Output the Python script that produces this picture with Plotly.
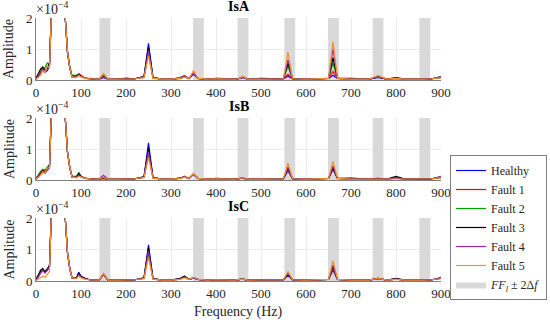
import plotly.graph_objects as go

# Frequency grid (Hz); amplitudes in units of 1e-4
freq = [0, 5, 10, 15, 20, 25, 30, 35,
        50, 65, 70, 75, 80,
        90, 95, 100, 110, 120,
        140, 150, 160, 180, 200, 220, 240, 250, 260,
        280, 300, 320, 330, 340, 350, 360, 380, 400,
        440, 450, 460, 470, 500, 540, 550, 560, 570,
        600, 640, 650, 660, 670, 700, 740, 760, 780,
        800, 820, 860, 880, 900]

series_names = ["Healthy", "Fault 1", "Fault 2", "Fault 3", "Fault 4", "Fault 5"]
series_colors = ["#0000ff", "#ff0000", "#00a000", "#000000", "#9a2ca8", "#f7902f"]
panel_titles = ["IsA", "IsB", "IsC"]
band_centers = [153, 361, 460, 564, 661, 760, 864]
band_half_width = 12
x_ticks = [0, 100, 200, 300, 400, 500, 600, 700, 800, 900]
y_ticks = [0, 1, 2]

# ---- IsA ----
isa_healthy = [0.05, 0.15, 0.25, 0.40, 0.25, 0.30, 0.45, 2.5,
               40, 2.0, 0.9, 0.4, 0.10,
               0.12, 0.18, 0.12, 0.05, 0.04,
               0.03, 0.08, 0.03, 0.03, 0.05, 0.04, 0.10, 1.18, 0.08,
               0.03, 0.03, 0.06, 0.12, 0.05, 0.18, 0.05, 0.03, 0.04,
               0.03, 0.04, 0.08, 0.03, 0.03, 0.03, 0.04, 0.12, 0.04,
               0.03, 0.03, 0.05, 0.15, 0.05, 0.03, 0.03, 0.08, 0.03,
               0.06, 0.03, 0.03, 0.04, 0.10]
isa_fault1 = [0.02, 0.10, 0.20, 0.30, 0.30, 0.35, 0.50, 2.5,
              40, 2.0, 0.9, 0.4, 0.10,
              0.10, 0.20, 0.15, 0.05, 0.05,
              0.03, 0.15, 0.03, 0.03, 0.04, 0.04, 0.08, 0.85, 0.06,
              0.03, 0.03, 0.05, 0.10, 0.05, 0.20, 0.05, 0.03, 0.04,
              0.03, 0.04, 0.10, 0.03, 0.03, 0.03, 0.04, 0.18, 0.04,
              0.03, 0.03, 0.05, 0.28, 0.05, 0.03, 0.03, 0.10, 0.03,
              0.05, 0.03, 0.03, 0.04, 0.08]
isa_fault2 = [0.08, 0.12, 0.30, 0.35, 0.40, 0.55, 0.50, 2.5,
              40, 2.0, 0.9, 0.45, 0.15,
              0.15, 0.20, 0.12, 0.05, 0.04,
              0.03, 0.12, 0.03, 0.03, 0.04, 0.04, 0.10, 0.92, 0.07,
              0.03, 0.03, 0.05, 0.10, 0.05, 0.22, 0.05, 0.03, 0.04,
              0.03, 0.04, 0.10, 0.03, 0.03, 0.03, 0.04, 0.45, 0.04,
              0.03, 0.03, 0.05, 0.55, 0.05, 0.03, 0.03, 0.10, 0.03,
              0.05, 0.03, 0.03, 0.04, 0.08]
isa_fault3 = [0.05, 0.18, 0.35, 0.42, 0.30, 0.40, 0.55, 2.5,
              40, 2.0, 0.9, 0.4, 0.12,
              0.12, 0.18, 0.12, 0.05, 0.04,
              0.03, 0.10, 0.03, 0.03, 0.05, 0.04, 0.12, 1.05, 0.08,
              0.03, 0.03, 0.06, 0.12, 0.05, 0.20, 0.05, 0.03, 0.05,
              0.03, 0.04, 0.10, 0.03, 0.05, 0.03, 0.04, 0.55, 0.04,
              0.03, 0.03, 0.05, 0.72, 0.05, 0.05, 0.03, 0.10, 0.03,
              0.08, 0.03, 0.03, 0.04, 0.10]
isa_fault4 = [0.03, 0.12, 0.28, 0.35, 0.28, 0.38, 0.45, 2.5,
              40, 2.0, 0.9, 0.4, 0.10,
              0.10, 0.15, 0.10, 0.08, 0.04,
              0.03, 0.10, 0.03, 0.03, 0.04, 0.04, 0.10, 0.95, 0.07,
              0.03, 0.03, 0.08, 0.15, 0.05, 0.20, 0.05, 0.03, 0.04,
              0.03, 0.04, 0.08, 0.03, 0.03, 0.03, 0.04, 0.65, 0.04,
              0.03, 0.03, 0.05, 1.02, 0.05, 0.03, 0.03, 0.10, 0.03,
              0.05, 0.03, 0.03, 0.04, 0.12]
isa_fault5 = [0.02, 0.08, 0.15, 0.30, 0.25, 0.45, 0.40, 2.5,
              40, 2.0, 0.9, 0.4, 0.10,
              0.08, 0.15, 0.10, 0.05, 0.04,
              0.03, 0.22, 0.03, 0.03, 0.04, 0.04, 0.08, 0.78, 0.06,
              0.03, 0.03, 0.05, 0.10, 0.05, 0.30, 0.05, 0.03, 0.04,
              0.03, 0.04, 0.12, 0.03, 0.03, 0.03, 0.04, 0.90, 0.04,
              0.03, 0.03, 0.05, 1.24, 0.05, 0.03, 0.03, 0.15, 0.03,
              0.05, 0.03, 0.03, 0.04, 0.08]

# ---- IsB ----
isb_healthy = [0.05, 0.10, 0.20, 0.25, 0.22, 0.30, 0.40, 2.5,
               40, 2.0, 0.9, 0.4, 0.10,
               0.10, 0.18, 0.12, 0.05, 0.04,
               0.03, 0.05, 0.03, 0.03, 0.04, 0.04, 0.10, 1.20, 0.08,
               0.03, 0.03, 0.06, 0.10, 0.05, 0.18, 0.05, 0.03, 0.04,
               0.03, 0.04, 0.06, 0.03, 0.03, 0.03, 0.04, 0.30, 0.04,
               0.03, 0.03, 0.05, 0.35, 0.05, 0.03, 0.03, 0.05, 0.03,
               0.06, 0.03, 0.03, 0.04, 0.10]
isb_fault1 = [0.03, 0.12, 0.25, 0.28, 0.30, 0.35, 0.45, 2.5,
              40, 2.0, 0.9, 0.4, 0.10,
              0.08, 0.15, 0.10, 0.05, 0.04,
              0.03, 0.06, 0.03, 0.03, 0.04, 0.04, 0.08, 0.85, 0.06,
              0.03, 0.03, 0.05, 0.12, 0.05, 0.20, 0.05, 0.03, 0.04,
              0.03, 0.04, 0.06, 0.03, 0.03, 0.03, 0.04, 0.35, 0.04,
              0.03, 0.03, 0.05, 0.38, 0.05, 0.03, 0.03, 0.05, 0.03,
              0.08, 0.03, 0.03, 0.04, 0.08]
isb_fault2 = [0.06, 0.15, 0.28, 0.35, 0.32, 0.40, 0.50, 2.5,
              40, 2.0, 0.9, 0.45, 0.12,
              0.12, 0.25, 0.12, 0.05, 0.04,
              0.03, 0.06, 0.03, 0.03, 0.04, 0.04, 0.10, 0.90, 0.07,
              0.03, 0.03, 0.05, 0.10, 0.05, 0.20, 0.05, 0.03, 0.04,
              0.03, 0.04, 0.06, 0.03, 0.03, 0.03, 0.04, 0.38, 0.04,
              0.03, 0.03, 0.05, 0.42, 0.05, 0.03, 0.03, 0.05, 0.03,
              0.06, 0.03, 0.03, 0.04, 0.08]
isb_fault3 = [0.04, 0.12, 0.22, 0.30, 0.25, 0.35, 0.45, 2.5,
              40, 2.0, 0.9, 0.4, 0.10,
              0.10, 0.20, 0.12, 0.05, 0.04,
              0.03, 0.06, 0.03, 0.03, 0.04, 0.04, 0.10, 1.02, 0.08,
              0.03, 0.03, 0.06, 0.10, 0.05, 0.20, 0.05, 0.03, 0.05,
              0.03, 0.04, 0.06, 0.03, 0.03, 0.03, 0.04, 0.40, 0.04,
              0.03, 0.03, 0.05, 0.40, 0.05, 0.06, 0.03, 0.05, 0.03,
              0.12, 0.03, 0.03, 0.04, 0.10]
isb_fault4 = [0.03, 0.10, 0.20, 0.28, 0.26, 0.32, 0.42, 2.5,
              40, 2.0, 0.9, 0.4, 0.10,
              0.08, 0.15, 0.10, 0.05, 0.04,
              0.03, 0.15, 0.03, 0.03, 0.04, 0.04, 0.09, 0.92, 0.07,
              0.03, 0.03, 0.05, 0.10, 0.05, 0.18, 0.05, 0.03, 0.04,
              0.03, 0.04, 0.06, 0.03, 0.03, 0.03, 0.04, 0.42, 0.04,
              0.03, 0.03, 0.05, 0.45, 0.05, 0.03, 0.03, 0.05, 0.03,
              0.06, 0.03, 0.03, 0.04, 0.12]
isb_fault5 = [0.02, 0.08, 0.15, 0.25, 0.22, 0.38, 0.40, 2.5,
              40, 2.0, 0.9, 0.4, 0.10,
              0.08, 0.12, 0.10, 0.05, 0.04,
              0.03, 0.08, 0.03, 0.03, 0.04, 0.04, 0.08, 0.72, 0.06,
              0.03, 0.03, 0.05, 0.10, 0.05, 0.22, 0.05, 0.03, 0.04,
              0.03, 0.04, 0.08, 0.03, 0.03, 0.03, 0.04, 0.55, 0.04,
              0.03, 0.03, 0.05, 0.60, 0.05, 0.03, 0.03, 0.05, 0.03,
              0.05, 0.03, 0.03, 0.04, 0.08]

# ---- IsC ----
isc_healthy = [0.05, 0.20, 0.30, 0.38, 0.30, 0.35, 0.45, 2.5,
               40, 2.0, 0.9, 0.4, 0.10,
               0.10, 0.28, 0.15, 0.08, 0.04,
               0.03, 0.22, 0.03, 0.03, 0.04, 0.04, 0.10, 1.15, 0.08,
               0.03, 0.03, 0.08, 0.15, 0.05, 0.10, 0.05, 0.03, 0.04,
               0.03, 0.04, 0.06, 0.03, 0.03, 0.03, 0.04, 0.18, 0.04,
               0.03, 0.03, 0.05, 0.35, 0.05, 0.03, 0.03, 0.08, 0.03,
               0.06, 0.03, 0.03, 0.04, 0.10]
isc_fault1 = [0.03, 0.15, 0.25, 0.32, 0.28, 0.35, 0.50, 2.5,
              40, 2.0, 0.9, 0.4, 0.10,
              0.10, 0.20, 0.12, 0.06, 0.04,
              0.03, 0.22, 0.03, 0.03, 0.04, 0.04, 0.08, 0.85, 0.06,
              0.03, 0.03, 0.06, 0.12, 0.05, 0.10, 0.05, 0.03, 0.04,
              0.03, 0.04, 0.06, 0.03, 0.03, 0.03, 0.04, 0.20, 0.04,
              0.03, 0.03, 0.05, 0.40, 0.05, 0.03, 0.03, 0.08, 0.03,
              0.06, 0.03, 0.03, 0.04, 0.08]
isc_fault2 = [0.06, 0.15, 0.35, 0.30, 0.32, 0.40, 0.45, 2.5,
              40, 2.0, 0.9, 0.4, 0.10,
              0.12, 0.18, 0.12, 0.06, 0.04,
              0.03, 0.20, 0.03, 0.03, 0.04, 0.04, 0.09, 0.92, 0.07,
              0.03, 0.03, 0.06, 0.12, 0.05, 0.10, 0.05, 0.03, 0.04,
              0.03, 0.04, 0.06, 0.03, 0.03, 0.03, 0.04, 0.22, 0.04,
              0.03, 0.03, 0.05, 0.45, 0.05, 0.03, 0.03, 0.08, 0.03,
              0.06, 0.03, 0.03, 0.04, 0.08]
isc_fault3 = [0.05, 0.18, 0.32, 0.40, 0.28, 0.38, 0.50, 2.5,
              40, 2.0, 0.9, 0.4, 0.10,
              0.10, 0.25, 0.15, 0.08, 0.04,
              0.03, 0.22, 0.03, 0.03, 0.04, 0.04, 0.10, 1.05, 0.08,
              0.03, 0.03, 0.08, 0.15, 0.05, 0.10, 0.05, 0.03, 0.04,
              0.03, 0.04, 0.06, 0.03, 0.03, 0.03, 0.04, 0.22, 0.04,
              0.03, 0.03, 0.05, 0.48, 0.05, 0.03, 0.03, 0.08, 0.03,
              0.08, 0.03, 0.03, 0.04, 0.10]
isc_fault4 = [0.03, 0.12, 0.25, 0.35, 0.25, 0.33, 0.45, 2.5,
              40, 2.0, 0.9, 0.4, 0.10,
              0.08, 0.20, 0.12, 0.06, 0.04,
              0.03, 0.20, 0.03, 0.03, 0.04, 0.04, 0.09, 0.95, 0.07,
              0.03, 0.03, 0.06, 0.12, 0.05, 0.10, 0.05, 0.03, 0.04,
              0.03, 0.04, 0.06, 0.03, 0.03, 0.03, 0.04, 0.25, 0.04,
              0.03, 0.03, 0.05, 0.52, 0.05, 0.03, 0.03, 0.08, 0.03,
              0.06, 0.03, 0.03, 0.04, 0.12]
isc_fault5 = [0.02, 0.05, 0.10, 0.15, 0.12, 0.20, 0.30, 2.5,
              40, 2.0, 0.9, 0.4, 0.10,
              0.08, 0.15, 0.10, 0.05, 0.04,
              0.03, 0.25, 0.03, 0.03, 0.04, 0.04, 0.08, 0.75, 0.06,
              0.03, 0.03, 0.05, 0.10, 0.05, 0.12, 0.05, 0.03, 0.04,
              0.03, 0.04, 0.06, 0.03, 0.03, 0.03, 0.04, 0.30, 0.04,
              0.03, 0.03, 0.05, 0.65, 0.05, 0.03, 0.03, 0.08, 0.03,
              0.05, 0.03, 0.03, 0.04, 0.08]

panels = [
    [isa_healthy, isa_fault1, isa_fault2, isa_fault3, isa_fault4, isa_fault5],
    [isb_healthy, isb_fault1, isb_fault2, isb_fault3, isb_fault4, isb_fault5],
    [isc_healthy, isc_fault1, isc_fault2, isc_fault3, isc_fault4, isc_fault5],
]

W, H = 550, 320
FONT = "Liberation Serif"
x_dom = [36 / W, 441 / W]
# (top px, bottom px) for each panel
panel_px = [(18, 80), (118, 180), (218, 281)]

fig = go.Figure()

# band polygons
band_x, band_y = [], []
for c in band_centers:
    band_x += [c - band_half_width, c + band_half_width, c + band_half_width, c - band_half_width, c - band_half_width, None]
    band_y += [0, 0, 2, 2, 0, None]

for p in range(3):
    ax = "" if p == 0 else str(p + 1)
    fig.add_trace(go.Scatter(
        x=band_x, y=band_y, fill="toself", mode="lines",
        fillcolor="#d9d9d9", line=dict(width=0, color="#d9d9d9"),
        name="<i>FF<sub>l</sub></i> ± 2Δ<i>f</i>",
        showlegend=(p == 0), legendrank=10,
        xaxis="x" + ax, yaxis="y" + ax, hoverinfo="skip"))
    for s, vals in enumerate(panels[p]):
        fig.add_trace(go.Scatter(
            x=freq, y=vals, mode="lines",
            line=dict(color=series_colors[s], width=1.2),
            name=series_names[s], showlegend=(p == 0), legendrank=s + 1,
            xaxis="x" + ax, yaxis="y" + ax))

layout = dict(
    width=W, height=H,
    margin=dict(l=0, r=0, t=0, b=0, autoexpand=False),
    paper_bgcolor="white", plot_bgcolor="white",
    font=dict(family=FONT, size=13, color="#262626"),
    showlegend=True,
    legend=dict(x=547 / W, y=1 - 155 / H, xanchor="right", yanchor="top",
                bordercolor="#7f7f7f", borderwidth=1, bgcolor="white",
                font=dict(family=FONT, size=12, color="#262626"),
                itemwidth=30, tracegroupgap=0),
)
annotations = []
for p in range(3):
    ax = "" if p == 0 else str(p + 1)
    top, bot = panel_px[p]
    ydom = [1 - bot / H, 1 - top / H]
    layout["xaxis" + ax] = dict(
        domain=x_dom, range=[0, 900], tickvals=x_ticks, automargin=False,
        showgrid=True, gridcolor="#ebebeb", gridwidth=1,
        showline=True, linecolor="#808080", linewidth=1,
        zeroline=False, ticks="", anchor="y" + ax,
        tickfont=dict(size=13, family=FONT, color="#262626"))
    layout["yaxis" + ax] = dict(
        domain=ydom, range=[0, 2], tickvals=y_ticks, automargin=False,
        showgrid=True, gridcolor="#ebebeb", gridwidth=1,
        showline=True, linecolor="#808080", linewidth=1,
        zeroline=False, ticks="", anchor="x" + ax,
        tickfont=dict(size=13, family=FONT, color="#262626"))
    annotations.append(dict(
        text="<b>" + panel_titles[p] + "</b>", xref="paper", yref="paper",
        x=238.5 / W, y=1 - (top - 2) / H, xanchor="center", yanchor="bottom",
        showarrow=False, font=dict(size=14, family=FONT, color="#000000")))
    annotations.append(dict(
        text="×10<sup>−4</sup>", xref="paper", yref="paper",
        x=34 / W, y=1 - (top + 1) / H, xanchor="left", yanchor="bottom",
        showarrow=False, font=dict(size=14, family=FONT, color="#262626")))
    annotations.append(dict(
        text="Amplitude", xref="paper", yref="paper", textangle=-90,
        x=9 / W, y=1 - (top + bot) / 2 / H, xanchor="center", yanchor="middle",
        showarrow=False, font=dict(size=14, family=FONT, color="#262626")))
annotations.append(dict(
    text="Frequency (Hz)", xref="paper", yref="paper",
    x=238.5 / W, y=1 - 312 / H, xanchor="center", yanchor="middle",
    showarrow=False, font=dict(size=14, family=FONT, color="#262626")))
layout["annotations"] = annotations

fig.update_layout(**layout)
fig.write_html("out.html", config={"displayModeBar": False},
               post_script="document.body.style.margin='0';document.body.style.padding='0';")
